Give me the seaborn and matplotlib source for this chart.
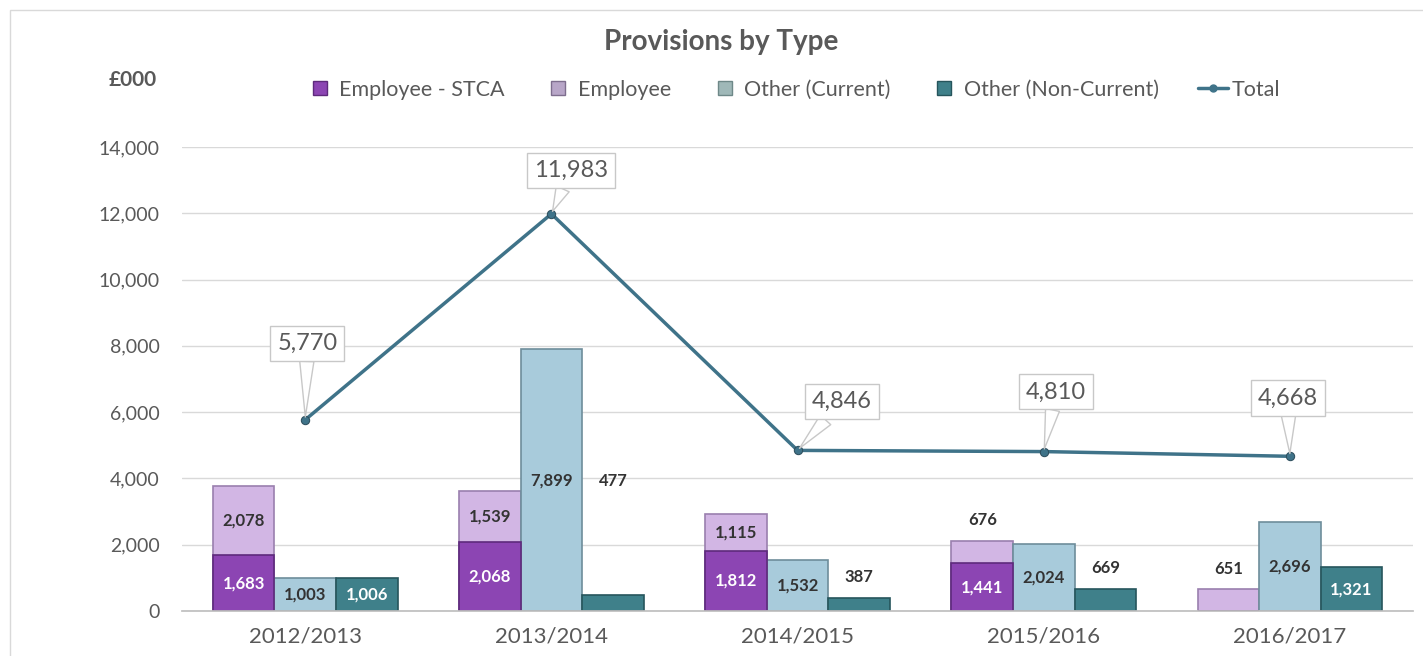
import matplotlib
matplotlib.use("Agg")
import numpy as np
import pandas as pd
import matplotlib.pyplot as plt
from matplotlib.lines import Line2D
from matplotlib.patches import Rectangle
import seaborn as sns

years = ["2012/2013", "2013/2014", "2014/2015", "2015/2016", "2016/2017"]
employee_stca = [1683, 2068, 1812, 1441, 0]
employee = [2078, 1539, 1115, 676, 651]
other_current = [1003, 7899, 1532, 2024, 2696]
other_non_current = [1006, 477, 387, 669, 1321]
total = [5770, 11983, 4846, 4810, 4668]

c_stca = "#8C45B3"
c_emp = "#D2B6E4"
c_cur = "#A8CBDB"
c_non = "#3F808A"
c_line = "#3F7389"
grey = "#595959"

sns.set_theme(style="white")
plt.rcParams["font.family"] = ["Lato", "DejaVu Sans"]

# hue slot "emp" holds the whole stacked column, STCA is drawn over it
slots = ["emp", "cur", "non"]
stack_top = [a + b for a, b in zip(employee_stca, employee)]
df = pd.DataFrame({
    "year": years * 3,
    "slot": ["emp"] * 5 + ["cur"] * 5 + ["non"] * 5,
    "value": stack_top + other_current + other_non_current,
})

fig = plt.figure(figsize=(14.23, 6.56), dpi=100)
ax = fig.add_axes([0.128, 0.0686, 0.865, 0.7073])

sns.barplot(data=df, x="year", y="value", hue="slot", hue_order=slots,
            palette=[c_emp, c_cur, c_non], width=0.75, ax=ax, legend=False,
            saturation=1, linewidth=1.2)

edges = ["#9A7FAE", "#6E8D9B", "#26555C"]
for cont, ec in zip(ax.containers, edges):
    for p in cont:
        p.set_edgecolor(ec)

emp_bars = list(ax.containers[0])
xs = [p.get_x() for p in emp_bars]
w = emp_bars[0].get_width()
ax.bar(xs, employee_stca, width=w, align="edge", color=c_stca,
       edgecolor="#5E2A7C", linewidth=1.2)

sns.lineplot(x=np.arange(len(years)), y=total, ax=ax, color=c_line,
             linewidth=2.5, marker="o", markersize=6,
             markeredgecolor="#2E4F5E", zorder=5)

# bar labels
lab_kw = dict(ha="center", va="center", fontsize=12, fontweight="bold")
for i in range(len(years)):
    cx = xs[i] + w / 2
    if employee_stca[i]:
        ax.text(cx, employee_stca[i] / 2, f"{employee_stca[i]:,}", color="white", **lab_kw)
    if employee[i] >= 1000:
        ax.text(cx, employee_stca[i] + employee[i] / 2, f"{employee[i]:,}", color="#333333", **lab_kw)
    else:
        ax.annotate(f"{employee[i]:,}", (cx, stack_top[i]), xytext=(0, 15),
                    textcoords="offset points", color="#333333", **lab_kw)
    cont_cur = ax.containers[1][i]
    ccx = cont_cur.get_x() + w / 2
    ax.text(ccx, other_current[i] / 2, f"{other_current[i]:,}", color="#333333", **lab_kw)
    nb = ax.containers[2][i]
    ncx = nb.get_x() + w / 2
    if other_non_current[i] >= 1000:
        ax.text(ncx, other_non_current[i] / 2, f"{other_non_current[i]:,}", color="white", **lab_kw)
    else:
        up = 82 if i == 1 else 15
        ax.annotate(f"{other_non_current[i]:,}", (ncx, other_non_current[i]), xytext=(0, up),
                    textcoords="offset points", color="#333333", **lab_kw)

# total callouts
offsets = [(1.5, 55), (14, 31), (32, 35), (9, 43), (-1.5, 42)]
for i, (v, off) in enumerate(zip(total, offsets)):
    ax.annotate(f"{v:,}", (i, v), xytext=off, textcoords="offset points",
                ha="center", va="center", fontsize=17, color=grey, zorder=6,
                bbox=dict(boxstyle="square,pad=0.3", fc="white", ec="#C8C8C8", lw=1),
                arrowprops=dict(arrowstyle="wedge,tail_width=0.6,shrink_factor=0.5",
                                fc="white", ec="#C8C8C8", lw=1, shrinkA=0, shrinkB=2),
                annotation_clip=False)

ax.set_xlim(-0.5, len(years) - 0.5)
ax.set_ylim(0, 14000)
ax.set_yticks(range(0, 14001, 2000))
ax.set_yticklabels([f"{t:,}" for t in range(0, 14001, 2000)])
ax.set_xlabel("")
ax.set_ylabel("")
ax.grid(axis="y", color="#D9D9D9", linewidth=1)
ax.set_axisbelow(True)
for s in ["left", "right", "top"]:
    ax.spines[s].set_visible(False)
ax.spines["bottom"].set_color("#BFBFBF")
ax.tick_params(axis="y", length=0, pad=16, labelsize=14, labelcolor=grey)
ax.tick_params(axis="x", length=0, pad=11, labelsize=16, labelcolor=grey)
ax.set_xticks(np.arange(-0.5, len(years)), minor=True)
ax.tick_params(axis="x", which="minor", length=7, color="#BFBFBF", direction="out")

fig.text(0.507, 0.936, "Provisions by Type", ha="center", va="center",
         fontsize=20, fontweight="bold", color=grey)
fig.text(0.0935, 0.878, "£000", ha="center", va="center",
         fontsize=15, fontweight="bold", color=grey)

handles = [
    Line2D([], [], linestyle="none", marker="s", markersize=10, color=c_stca, markeredgecolor="#5E2A7C"),
    Line2D([], [], linestyle="none", marker="s", markersize=10, color="#B8A6C8", markeredgecolor="#7E6E8E"),
    Line2D([], [], linestyle="none", marker="s", markersize=10, color="#9FB8B8", markeredgecolor="#6E8888"),
    Line2D([], [], linestyle="none", marker="s", markersize=10, color=c_non, markeredgecolor="#26555C"),
    Line2D([], [], color=c_line, linewidth=2.5, marker="o", markersize=5),
]
names = ["Employee - STCA", "Employee", "Other (Current)", "Other (Non-Current)", "Total"]
fig.legend(handles, names, loc="center", bbox_to_anchor=(0.557, 0.863), ncol=5,
           frameon=False, fontsize=15.5, handlelength=1.4, handletextpad=0.2,
           columnspacing=1.8, labelcolor=grey)

fig.patches.append(Rectangle((0.007, -0.02), 1.1, 1.005, transform=fig.transFigure,
                             fill=False, edgecolor="#D9D9D9", linewidth=1))

fig.savefig("out.png", dpi=100)
